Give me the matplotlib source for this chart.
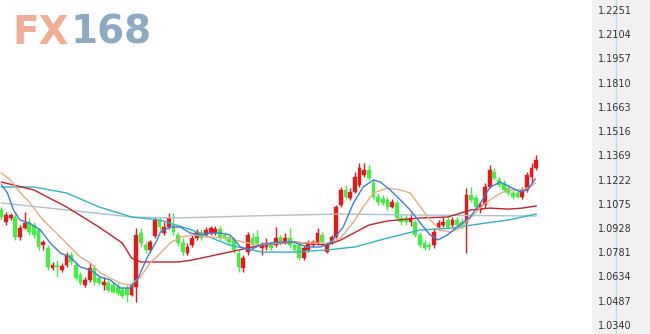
import numpy as np
import matplotlib
matplotlib.use("Agg")
import matplotlib.pyplot as plt
from matplotlib.patches import Rectangle
from matplotlib.lines import Line2D

# candle data
opens = [1.1038, 1.0964, 1.0989, 1.0995, 1.0873, 1.0928, 1.0964, 1.0946, 1.0916, 1.0825,
         1.0807, 1.0685, 1.0703, 1.0674, 1.0703, 1.0764, 1.0703, 1.0643, 1.0582, 1.0613,
         1.0685, 1.0625, 1.0582, 1.0594, 1.0582, 1.0570, 1.0552, 1.0564, 1.0521, 1.0570,
         1.0898, 1.0825, 1.0795, 1.0880, 1.0977, 1.0898, 1.0934, 1.0946, 1.0886, 1.0837,
         1.0776, 1.0825, 1.0867, 1.0904, 1.0886, 1.0898, 1.0898, 1.0922, 1.0886, 1.0873,
         1.0856, 1.0776, 1.0685, 1.0782, 1.0867, 1.0873, 1.0807, 1.0813, 1.0825, 1.0825,
         1.0873, 1.0843, 1.0867, 1.0825, 1.0825, 1.0746, 1.0795, 1.0825, 1.0837, 1.0886,
         1.0782, 1.0843, 1.0873, 1.1068, 1.1159, 1.1110, 1.1147, 1.1189, 1.1250, 1.1280,
         1.1201, 1.1116, 1.1104, 1.1098, 1.1056, 1.1080, 1.0989, 1.0989, 1.0964, 1.0964,
         1.0886, 1.0837, 1.0825, 1.0825, 1.0928, 1.0946, 1.0977, 1.0946, 1.0977, 1.0964,
         1.0958, 1.1128, 1.1110, 1.1038, 1.1068, 1.1177, 1.1268, 1.1220, 1.1201, 1.1171,
         1.1141, 1.1141, 1.1116, 1.1159, 1.1238, 1.1292]
closes = [1.0995, 1.1007, 1.1007, 1.0873, 1.0928, 1.0958, 1.0904, 1.0886, 1.0813, 1.0843,
          1.0691, 1.0703, 1.0691, 1.0697, 1.0764, 1.0722, 1.0625, 1.0594, 1.0613, 1.0685,
          1.0600, 1.0594, 1.0600, 1.0552, 1.0540, 1.0534, 1.0515, 1.0521, 1.0582, 1.0886,
          1.0837, 1.0795, 1.0843, 1.0977, 1.0934, 1.0934, 1.0989, 1.0904, 1.0837, 1.0782,
          1.0813, 1.0867, 1.0904, 1.0867, 1.0916, 1.0928, 1.0922, 1.0873, 1.0867, 1.0843,
          1.0795, 1.0691, 1.0746, 1.0886, 1.0825, 1.0837, 1.0825, 1.0837, 1.0807, 1.0867,
          1.0843, 1.0867, 1.0825, 1.0795, 1.0746, 1.0807, 1.0837, 1.0843, 1.0898, 1.0843,
          1.0825, 1.0873, 1.1056, 1.1159, 1.1116, 1.1147, 1.1238, 1.1292, 1.1280, 1.1232,
          1.1116, 1.1086, 1.1080, 1.1056, 1.1086, 1.0989, 1.0964, 1.0964, 1.0989, 1.0886,
          1.0825, 1.0807, 1.0813, 1.0904, 1.0958, 1.0964, 1.0934, 1.0977, 1.0946, 1.0934,
          1.1128, 1.1098, 1.1056, 1.1068, 1.1177, 1.1280, 1.1232, 1.1189, 1.1159, 1.1141,
          1.1116, 1.1116, 1.1159, 1.1250, 1.1292, 1.1341]
highs = [1.1056, 1.1025, 1.1019, 1.1019, 1.0946, 1.1025, 1.0989, 1.0964, 1.0928, 1.0856,
         1.0825, 1.0722, 1.0734, 1.0716, 1.0782, 1.0782, 1.0716, 1.0661, 1.0631, 1.0716,
         1.0703, 1.0643, 1.0631, 1.0613, 1.0600, 1.0594, 1.0570, 1.0582, 1.0600, 1.0928,
         1.0928, 1.0843, 1.0856, 1.0995, 1.0995, 1.0964, 1.1019, 1.1019, 1.0904, 1.0867,
         1.0837, 1.0886, 1.0922, 1.0922, 1.0934, 1.0940, 1.0940, 1.0940, 1.0904, 1.0886,
         1.0873, 1.0795, 1.0764, 1.0904, 1.0898, 1.0916, 1.0843, 1.0867, 1.0843, 1.0934,
         1.0886, 1.0898, 1.0928, 1.0837, 1.0843, 1.0825, 1.0856, 1.0856, 1.0928, 1.0904,
         1.0843, 1.0886, 1.1068, 1.1177, 1.1189, 1.1171, 1.1268, 1.1323, 1.1323, 1.1310,
         1.1220, 1.1141, 1.1128, 1.1116, 1.1104, 1.1098, 1.1007, 1.1007, 1.1019, 1.0977,
         1.0904, 1.0856, 1.0843, 1.0928, 1.0977, 1.0995, 1.0995, 1.0995, 1.0995, 1.0989,
         1.1171, 1.1177, 1.1128, 1.1086, 1.1201, 1.1310, 1.1292, 1.1238, 1.1220, 1.1189,
         1.1159, 1.1159, 1.1177, 1.1268, 1.1323, 1.1371]
lows = [1.0977, 1.0946, 1.0977, 1.0856, 1.0856, 1.0922, 1.0886, 1.0867, 1.0795, 1.0795,
        1.0674, 1.0674, 1.0631, 1.0661, 1.0691, 1.0703, 1.0613, 1.0582, 1.0570, 1.0600,
        1.0582, 1.0582, 1.0552, 1.0540, 1.0534, 1.0521, 1.0503, 1.0479, 1.0515, 1.0479,
        1.0819, 1.0776, 1.0782, 1.0867, 1.0916, 1.0886, 1.0922, 1.0886, 1.0819, 1.0764,
        1.0764, 1.0813, 1.0856, 1.0856, 1.0873, 1.0886, 1.0886, 1.0856, 1.0856, 1.0825,
        1.0776, 1.0661, 1.0661, 1.0764, 1.0813, 1.0825, 1.0764, 1.0795, 1.0795, 1.0813,
        1.0825, 1.0831, 1.0807, 1.0782, 1.0734, 1.0734, 1.0782, 1.0813, 1.0825, 1.0825,
        1.0776, 1.0831, 1.0867, 1.1056, 1.1104, 1.1098, 1.1141, 1.1177, 1.1238, 1.1220,
        1.1104, 1.1068, 1.1068, 1.1038, 1.1049, 1.0977, 1.0946, 1.0946, 1.0940, 1.0873,
        1.0813, 1.0795, 1.0795, 1.0807, 1.0916, 1.0934, 1.0922, 1.0934, 1.0934, 1.0922,
        1.0776, 1.1086, 1.1038, 1.1019, 1.1049, 1.1171, 1.1220, 1.1177, 1.1147, 1.1128,
        1.1104, 1.1110, 1.1104, 1.1147, 1.1201, 1.1280]

# moving average lines, sampled at candle positions
ma5_x = [0, 1.3, 2.6, 4, 6, 8.4, 10.5, 12.7, 14.8, 17, 19.1, 21.3, 23.4, 25.6, 27.7, 29.2,
         31.4, 33.5, 34.2, 36.3, 38.5, 40.6, 42.8, 44.9, 47.1, 49.2, 51.4, 53.5, 55.7, 57.8,
         60, 62.8, 65.8, 68.6, 70.7, 73.5, 75.7, 77.8, 80, 81.5, 83.6, 85.8, 87.9, 90.1,
         92.2, 93.9, 95.9, 98, 100.8, 103, 105.1, 107.3, 109.4, 111.6, 113.1, 114.8]
ma5_y = [1.1189, 1.1141, 1.1038, 1.0977, 1.0958, 1.0916, 1.0837, 1.0776, 1.0752, 1.0691,
         1.0674, 1.0631, 1.0613, 1.0564, 1.0564, 1.0613, 1.0752, 1.0856, 1.0904, 1.0934,
         1.0934, 1.0898, 1.0886, 1.0898, 1.0898, 1.0886, 1.0813, 1.0795, 1.0825, 1.0837,
         1.0843, 1.0843, 1.0813, 1.0813, 1.0837, 1.0934, 1.1080, 1.1177, 1.1220, 1.1207,
         1.1159, 1.1098, 1.1038, 1.0958, 1.0886, 1.0856, 1.0886, 1.0934, 1.0995, 1.1080,
         1.1177, 1.1207, 1.1177, 1.1147, 1.1159, 1.1226]
ma10_x = [0, 1.9, 4.1, 6.2, 8.4, 10.5, 12.7, 14.8, 17, 19.1, 21.3, 23.4, 25.6, 27.7, 29.9,
          32, 34.2, 36.3, 38.5, 41.3, 44.9, 48.6, 52, 55.7, 59.3, 62.8, 66.4, 70.1, 72.9,
          75.7, 77.8, 80, 83, 85.8, 87.9, 90.1, 92.2, 94.4, 96.5, 98.7, 101.5, 103.6, 106.6,
          108.8, 111.6, 113.7, 114.8]
ma10_y = [1.1262, 1.1220, 1.1141, 1.1080, 1.0995, 1.0934, 1.0873, 1.0813, 1.0752, 1.0716,
          1.0655, 1.0625, 1.0594, 1.0582, 1.0631, 1.0716, 1.0776, 1.0837, 1.0873, 1.0886,
          1.0873, 1.0867, 1.0843, 1.0825, 1.0837, 1.0843, 1.0837, 1.0837, 1.0867, 1.0964,
          1.1056, 1.1141, 1.1171, 1.1159, 1.1141, 1.1056, 1.0977, 1.0916, 1.0904, 1.0928,
          1.1007, 1.1068, 1.1128, 1.1159, 1.1159, 1.1177, 1.1201]
ma30_x = [0, 7, 14, 21, 26, 28, 30, 38, 41, 49, 56, 63, 70, 73, 79, 83, 90, 96, 101, 105,
          109, 112, 115]
ma30_y = [1.1207, 1.1159, 1.1056, 1.0934, 1.0837, 1.0746, 1.0722, 1.0722, 1.0734, 1.0782,
          1.0825, 1.0843, 1.0825, 1.0856, 1.0946, 1.0971, 1.0989, 1.0995, 1.1038, 1.1049,
          1.1043, 1.1049, 1.1062]
ma60_x = [0, 7, 14, 21, 28, 34, 41, 49, 56, 63, 70, 76, 83, 90, 97, 101, 109, 115]
ma60_y = [1.1177, 1.1177, 1.1141, 1.1056, 1.0995, 1.0977, 1.0916, 1.0825, 1.0782, 1.0782,
          1.0795, 1.0813, 1.0867, 1.0916, 1.0928, 1.0946, 1.0977, 1.1013]
ma120_x = [0, 14, 28, 38, 53, 73, 90, 115]
ma120_y = [1.1080, 1.1038, 1.0995, 1.0989, 1.1001, 1.1013, 1.1007, 1.1001]

price_ticks = [1.2251, 1.2104, 1.1957, 1.1810, 1.1663, 1.1516, 1.1369,
               1.1222, 1.1075, 1.0928, 1.0781, 1.0634, 1.0487, 1.0340]

up_col = '#e3191c'
down_col = '#44ee44'

fig = plt.figure(figsize=(6.5, 3.34), dpi=100)
fig.patch.set_facecolor('white')

# right price panel
fig.patches.append(Rectangle((592 / 650, 0), 58 / 650, 1, transform=fig.transFigure,
                             facecolor='#f1f1f1', edgecolor='none', zorder=-2))
fig.add_artist(Line2D([616 / 650, 616 / 650], [0, 1], transform=fig.transFigure,
                      color='#c4d6de', lw=1, zorder=-1))

ax = fig.add_axes([0, 0, 592 / 650, 1])
ax.set_facecolor('white')

o = np.array(opens)
c = np.array(closes)
h = np.array(highs)
l = np.array(lows)
x = np.arange(len(o))
cols = np.where(c >= o, up_col, down_col)

ax.vlines(x, l, h, colors=cols, lw=1, zorder=2)
body = np.maximum(np.abs(c - o), 0.0004)
ax.bar(x, body, bottom=np.minimum(o, c), width=0.8, color=cols, edgecolor=cols,
       linewidth=0.3, zorder=3)

ax.plot(ma120_x, ma120_y, color='#a9c3d0', lw=1, zorder=4)
ax.plot(ma60_x, ma60_y, color='#2fb5c4', lw=1, zorder=4)
ax.plot(ma30_x, ma30_y, color='#c8202e', lw=1, zorder=4)
ax.plot(ma10_x, ma10_y, color='#e2ae86', lw=1, zorder=5)
ax.plot(ma5_x, ma5_y, color='#3b7fd4', lw=1, zorder=6)

ax.set_xlim(-0.3, 127)
ax.set_ylim(1.0285, 1.2312)
ax.set_xticks([])
ax.yaxis.tick_right()
ax.set_yticks(price_ticks)
ax.set_yticklabels(['%.4f' % t for t in price_ticks])
ax.tick_params(axis='y', length=0, pad=4, labelsize=7, labelcolor='#333333')
for s in ax.spines.values():
    s.set_visible(False)

# logo: "FX" then "168" placed right after it
base_y = 1 - 44 / 334
t1 = fig.text(12 / 650, base_y, 'FX', fontsize=28, fontweight='bold',
              color='#f3ad95', ha='left', va='baseline')
fig.canvas.draw()
bb = t1.get_window_extent(renderer=fig.canvas.get_renderer())
fig.text((bb.x1 + 2) / 650, base_y, '168', fontsize=28, fontweight='bold',
         color='#8daac2', ha='left', va='baseline')

fig.savefig('out.png', dpi=100)
